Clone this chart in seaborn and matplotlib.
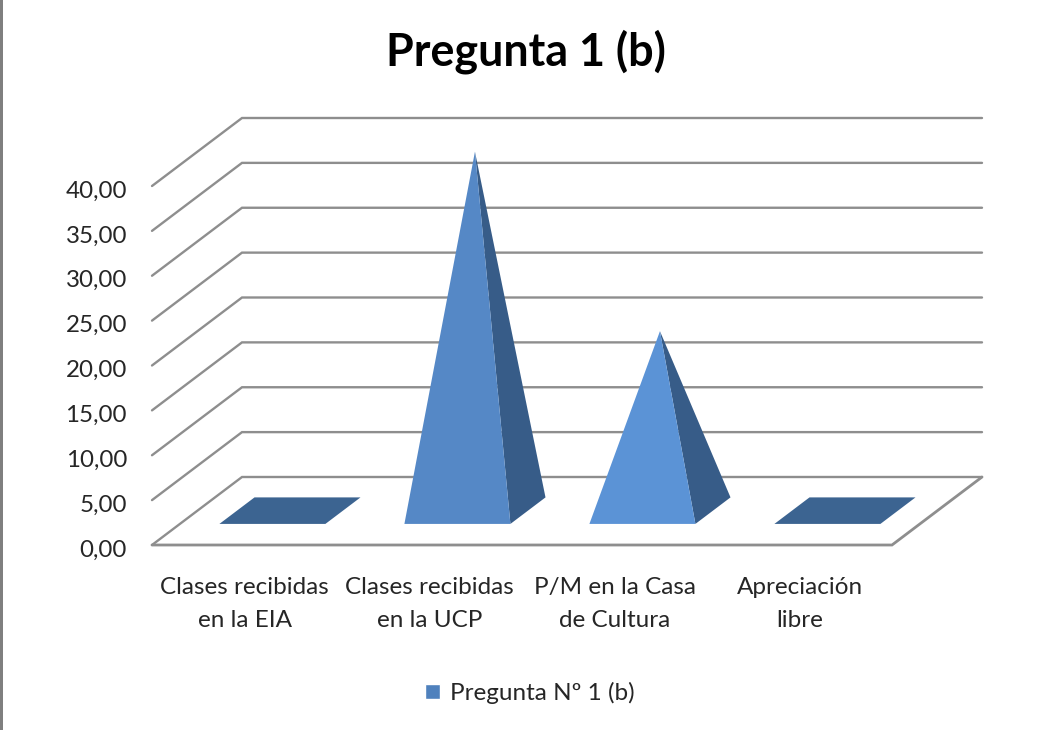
import matplotlib
matplotlib.use('Agg')
import matplotlib.pyplot as plt
from matplotlib.patches import Polygon, Rectangle
from matplotlib.transforms import ScaledTranslation
import pandas as pd
import seaborn as sns

title = 'Pregunta 1 (b)'
series_name = 'Pregunta Nº 1 (b)'
categories = ['Clases recibidas\nen la EIA', 'Clases recibidas\nen la UCP',
              'P/M en la Casa\nde Cultura', 'Apreciación\nlibre']
values = [0.0, 40.0, 20.0, 0.0]
y_ticks = [0, 5, 10, 15, 20, 25, 30, 35, 40]

front_colors = ['#3c6491', '#5588c6', '#5b93d6', '#3c6491']
side_color = '#375c88'
grid_color = '#8e8e8e'

W, H = 1048, 730
# 3d look: how far the back wall is shifted from the front, in data units
depth_x = 90 / 185
depth_y = 68 / 8.975


def proj(x, y, d):
    return (x + d * depth_x, y + d * depth_y)


sns.set_theme(style='white')
plt.rcParams['font.family'] = ['Lato', 'DejaVu Sans']

fig = plt.figure(figsize=(W / 100, H / 100), dpi=100)
ax = fig.add_axes([152 / W, 1 - 545 / H, 740 / W, 359 / H])

df = pd.DataFrame({'cat': categories, 'val': values})
sns.barplot(data=df, x='cat', y='val', color='#4f81bd', saturation=1, width=0.573,
            label=series_name, ax=ax, legend=True)
leg = ax.legend(loc='center', bbox_to_anchor=(529.5 / W, 1 - 693 / H),
                bbox_transform=fig.transFigure, frameon=False, fontsize=17.5,
                handlelength=0.62, handleheight=0.62, handletextpad=0.4,
                labelcolor='#262626')

ax.set_xlim(-0.5, 3.5)
ax.set_ylim(0, 40)
ax.set_xlabel('')
ax.set_ylabel('')
ax.set_yticks(y_ticks)
ax.set_yticklabels([('%.2f' % t).replace('.', ',') for t in y_ticks])
ax.tick_params(axis='y', length=0, pad=18, labelsize=17.4, labelcolor='#262626')
ax.tick_params(axis='x', length=0, pad=23, labelsize=17.5, labelcolor='#262626')
for lab in ax.get_xticklabels():
    lab.set_linespacing(1.68)
# tick labels sit a little under their gridline in the original
shift = ScaledTranslation(0, -3 / 100, fig.dpi_scale_trans)
for lab in ax.get_yticklabels():
    lab.set_transform(lab.get_transform() + shift)
sns.despine(ax=ax, left=True, bottom=True)

# walls and floor
x0, x1 = ax.get_xlim()
for t in y_ticks:
    a, b = proj(x0, t, 0), proj(x0, t, 1)
    c = proj(x1, t, 1)
    ax.plot([a[0], b[0], c[0]], [a[1], b[1], c[1]], color=grid_color, lw=1.7,
            clip_on=False, zorder=1, solid_joinstyle='miter')
floor = [proj(x0, 0, 0), proj(x1, 0, 0), proj(x1, 0, 1)]
ax.plot([p[0] for p in floor], [p[1] for p in floor], color=grid_color, lw=2,
        clip_on=False, zorder=1, solid_joinstyle='miter')

# pyramids built from the bars seaborn placed
d_front, d_back = 0.31, 0.70
for bar, fc in zip(ax.patches, front_colors):
    bx, bw, val = bar.get_x(), bar.get_width(), bar.get_height()
    bar.set_visible(False)
    fl, fr = proj(bx, 0, d_front), proj(bx + bw, 0, d_front)
    br, bl = proj(bx + bw, 0, d_back), proj(bx, 0, d_back)
    if val == 0:
        ax.add_patch(Polygon([fl, fr, br, bl], closed=True, fc=fc, ec='none',
                             clip_on=False, zorder=3))
        continue
    apex = proj(bx + bw / 2, val, (d_front + d_back) / 2)
    ax.add_patch(Polygon([fr, br, apex], closed=True, fc=side_color, ec='none',
                         clip_on=False, zorder=3))
    ax.add_patch(Polygon([fl, fr, apex], closed=True, fc=fc, ec='none',
                         clip_on=False, zorder=4))

fig.text(525.5 / W, 1 - 52 / H, title, ha='center', va='center', fontsize=32.3,
         fontweight='bold', color='black')
fig.add_artist(Rectangle((0, 0), 3 / W, 1, transform=fig.transFigure,
                         fc='#7f7f7f', ec='none'))
fig.savefig('out.png', dpi=100)
